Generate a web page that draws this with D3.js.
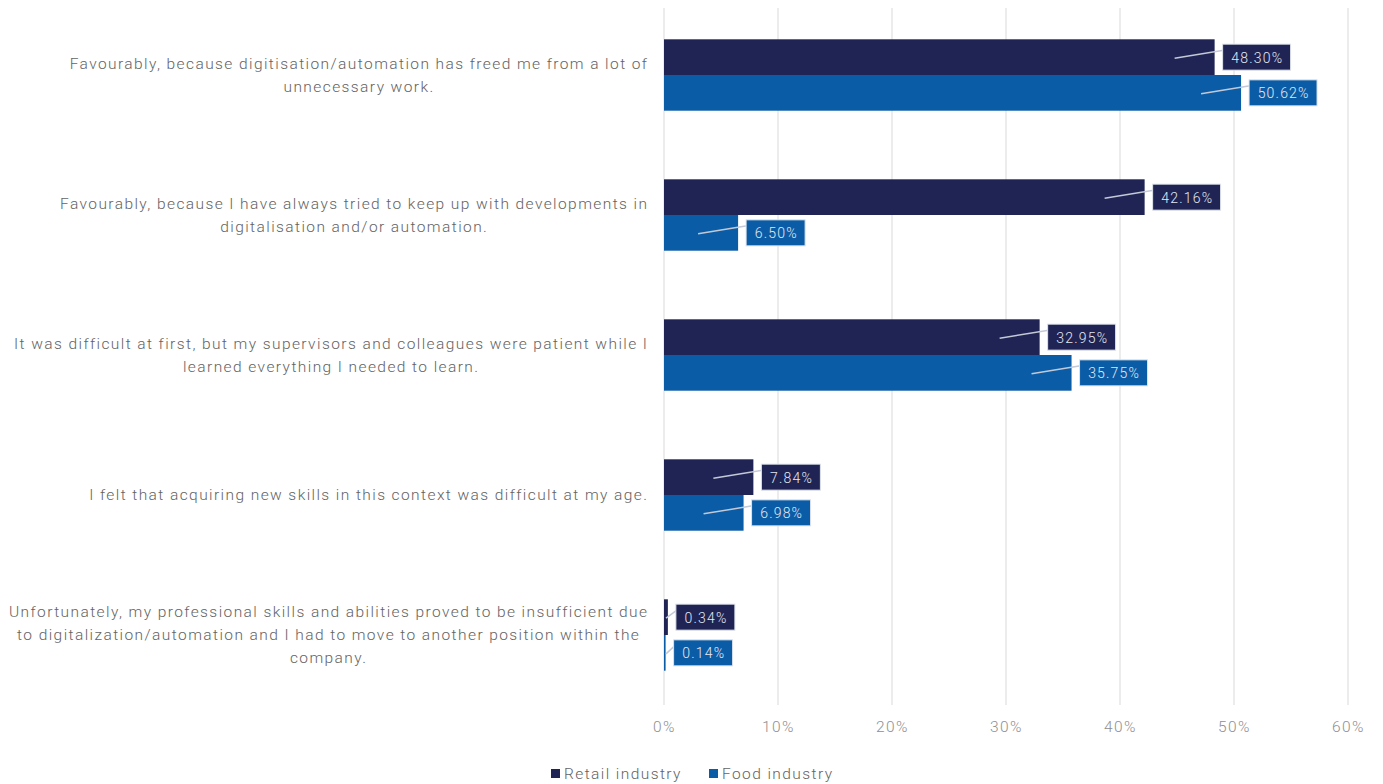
<!DOCTYPE html>
<html>
<head>
<meta charset="utf-8">
<script src="https://cdn.jsdelivr.net/npm/d3@7"></script>
<style>
  html, body { margin: 0; padding: 0; background: #ffffff; }
  svg { display: block; font-family: Roboto, "Open Sans", sans-serif; }
</style>
</head>
<body>
<svg id="chart" width="1383" height="784"></svg>
<script>
// Survey answers (one row per answer), each split into line breaks as printed
const categories = [
  ["Favourably, because digitisation/automation has freed me from a lot of", "unnecessary work."],
  ["Favourably, because I have always tried to keep up with developments in", "digitalisation and/or automation."],
  ["It was difficult at first, but my supervisors and colleagues were patient while I", "learned everything I needed to learn."],
  ["I felt that acquiring new skills in this context was difficult at my age."],
  ["Unfortunately, my professional skills and abilities proved to be insufficient due", "to digitalization/automation and I had to move to another position within the", "company."]
];
const seriesNames = ["Retail industry", "Food industry"];
const retailValues = [48.30, 42.16, 32.95, 7.84, 0.34];
const foodValues = [50.62, 6.50, 35.75, 6.98, 0.14];
const tickValues = [0, 10, 20, 30, 40, 50, 60];
const tickLabels = ["0%", "10%", "20%", "30%", "40%", "50%", "60%"];

const colors = ["#1f2455", "#0a5ca7"];
const textGray = "#636363";
const spacing = 1.42;

const svg = d3.select("#chart");
const plot = { left: 664, right: 1348, top: 5, bottom: 705 };

const x = d3.scaleLinear().domain([0, 60]).range([plot.left, plot.right]);
const y = d3.scaleBand()
  .domain(d3.range(categories.length))
  .range([plot.top, plot.bottom])
  .paddingInner(0.49)
  .paddingOuter(0.245);
const ySub = d3.scaleBand().domain([0, 1]).range([0, y.bandwidth()]);

// Vertical gridlines
svg.append("g")
  .selectAll("line")
  .data(tickValues)
  .join("line")
  .attr("x1", d => x(d)).attr("x2", d => x(d))
  .attr("y1", 8).attr("y2", plot.bottom)
  .attr("stroke", "#d9d9d9")
  .attr("stroke-width", 1);

// Bottom axis labels
const axis = d3.axisBottom(x).tickValues(tickValues)
  .tickFormat((d, i) => tickLabels[i]).tickSize(0).tickPadding(14);
const gAxis = svg.append("g")
  .attr("transform", `translate(0,${plot.bottom + 2})`)
  .call(axis);
gAxis.select(".domain").remove();
gAxis.selectAll("text")
  .attr("fill", "#8f8f8f")
  .style("font-size", "15.5px")
  .style("font-weight", 300)
  .style("letter-spacing", spacing + "px")
  .style("font-family", "Roboto, sans-serif");

// Category labels: block right-aligned, lines centred within block
const labelRight = 647 + spacing;
const lineH = 23;
const gCat = svg.append("g")
  .attr("fill", textGray)
  .style("font-size", "15.5px")
  .style("font-weight", 300)
  .style("letter-spacing", spacing + "px");
categories.forEach((lines, i) => {
  const g = gCat.append("g");
  const t = g.selectAll("text").data(lines).join("text")
    .text(d => d)
    .attr("dominant-baseline", "central");
  const maxW = d3.max(t.nodes(), n => n.getComputedTextLength());
  const cx = labelRight - maxW / 2;
  const cy = y(i) + y.bandwidth() / 2;
  t.attr("text-anchor", "middle")
    .attr("x", cx)
    .attr("y", (d, j) => cy + (j - (lines.length - 1) / 2) * lineH);
});

// Bars
const series = [retailValues, foodValues];
series.forEach((vals, s) => {
  svg.append("g")
    .selectAll("rect")
    .data(vals)
    .join("rect")
    .attr("x", x(0))
    .attr("y", (d, i) => y(i) + ySub(s))
    .attr("width", d => x(d) - x(0))
    .attr("height", ySub.bandwidth())
    .attr("fill", colors[s]);
});

// Data labels in callout boxes
series.forEach((vals, s) => {
  vals.forEach((v, i) => {
    const end = x(v);
    const cy = y(i) + ySub(s) + ySub.bandwidth() / 2;
    const g = svg.append("g");
    const label = v.toFixed(2) + "%";
    const txt = g.append("text")
      .text(label)
      .attr("fill", "#e4e8f0")
      .style("font-size", "14px")
      .style("font-weight", 300)
      .style("letter-spacing", "1.2px")
      .attr("text-anchor", "middle")
      .attr("dominant-baseline", "central");
    const w = txt.node().getComputedTextLength() + 16;
    const h = 26;
    const bx = end + 8;
    const by = cy - h / 2;
    const lineStart = Math.max(x(0) + 2, end - 40);
    g.insert("line", "text")
      .attr("x1", lineStart).attr("y1", cy + 1)
      .attr("x2", bx + 1).attr("y2", by + 6)
      .attr("stroke", "#c3c9d6")
      .attr("stroke-width", 1.5);
    g.insert("rect", "text")
      .attr("x", bx).attr("y", by)
      .attr("width", w).attr("height", h)
      .attr("fill", colors[s])
      .attr("stroke", "#dfe3ea")
      .attr("stroke-width", 1);
    txt.attr("x", bx + w / 2 + 0.6).attr("y", cy + 0.5);
  });
});

// Legend
const legend = svg.append("g").attr("transform", "translate(551,773)");
const legendX = [0, 158];
seriesNames.forEach((name, s) => {
  const g = legend.append("g").attr("transform", `translate(${legendX[s]},0)`);
  g.append("rect").attr("x", 0).attr("y", -4).attr("width", 9).attr("height", 9)
    .attr("fill", colors[s]);
  g.append("text").attr("x", 13).attr("y", 1)
    .attr("dominant-baseline", "central")
    .attr("fill", textGray)
    .style("font-size", "15.5px")
    .style("font-weight", 300)
    .style("letter-spacing", spacing + "px")
    .text(name);
});
</script>
</body>
</html>
